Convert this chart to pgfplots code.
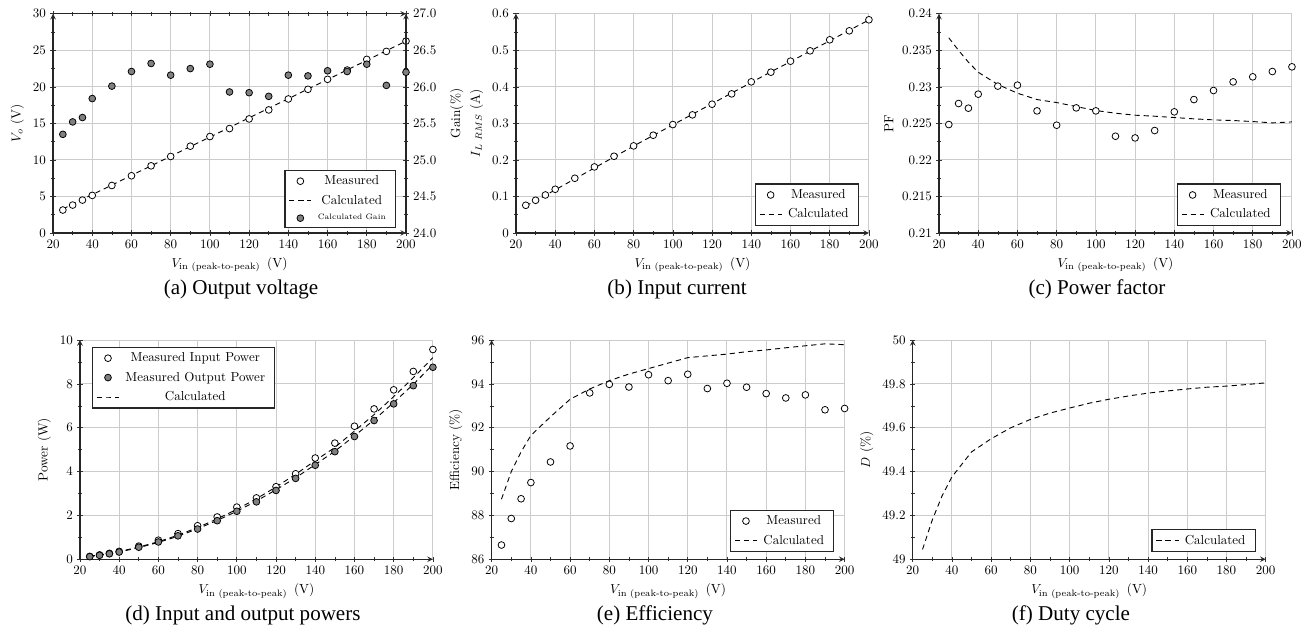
\documentclass[border=0pt]{standalone}
\usepackage{fontspec}
\usepackage{amsmath}
\usepackage{pgfplots}
\pgfplotsset{compat=1.18}
\newfontfamily\capfont{Liberation Serif}

\pgfplotsset{
  myaxis/.style={
    scale only axis, width=271.5pt, height=168.6pt,
    axis lines=left,
    xmin=20, xmax=200, xtick={20,40,...,200},
    minor x tick num=1, minor y tick num=1,
    grid=major, major grid style={black!20, line width=0.8pt},
    axis line style={black!85, line width=0.9pt},
    tick style={black!80, line width=0.5pt},
    major tick length=4pt, minor tick length=3pt,
    tick label style={font=\fontsize{9.7}{11}\selectfont},
    label style={font=\fontsize{10.2}{12}\selectfont},
    xlabel={$V_{\text{in (peak-to-peak)}}$\,~(V)},
    legend style={font=\fontsize{10}{12}\selectfont, draw=black!85, line width=0.9pt,
      inner xsep=3pt, inner ysep=1pt,
      nodes={inner xsep=4.5pt, inner ysep=3.2pt}},
    legend cell align=center,
  },
  meas/.style={only marks, mark=*, mark size=2.6pt, mark options={fill=white, draw=black, line width=0.6pt}},
  measf/.style={only marks, mark=*, mark size=2.6pt, mark options={fill=black!50, draw=black, line width=0.6pt}},
  calc/.style={no marks, black, line width=0.7pt, dash pattern=on 4pt off 3pt},
}

\begin{document}
\begin{tikzpicture}
\path[use as bounding box] (0,0) rectangle (1011.54pt,-485.38pt);

% (a) Output voltage
\begin{axis}[myaxis, at={(40.8pt,-179.2pt)}, anchor=south west,
  ymin=0, ymax=30, ytick={0,5,...,30},
  ylabel={$V_o$ (V)}]
\addplot[calc, forget plot] coordinates {(25,3.28) (30,3.94) (35,4.6) (40,5.25) (50,6.56) (60,7.88) (70,9.19) (80,10.5) (90,11.82) (100,13.13) (110,14.44) (120,15.76) (130,17.07) (140,18.38) (150,19.7) (160,21.0) (170,22.32) (180,23.63) (190,24.95) (200,26.26)};
\addplot[meas] coordinates {(25,3.14) (30,3.82) (35,4.5) (40,5.14) (50,6.5) (60,7.83) (70,9.19) (80,10.47) (90,11.88) (100,13.2) (110,14.29) (120,15.61) (130,16.84) (140,18.34) (150,19.66) (160,21.03) (170,22.3) (180,23.76) (190,24.85) (200,26.26)};
\end{axis}
\begin{axis}[myaxis, at={(40.8pt,-179.2pt)}, anchor=south west,
  axis x line*=top, axis y line*=right, grid=none,
  xticklabels={}, xlabel={},
  ymin=24, ymax=27, ytick={24,24.5,...,27},
  yticklabel style={/pgf/number format/.cd, fixed, fixed zerofill, precision=1},
  ylabel={Gain(\%)}, ylabel style={at={(rel axis cs:1.144,0.545)}, anchor=center},
  legend style={at={(0.972,0.023)}, anchor=south east}]
\addlegendimage{meas}
\addlegendentry{Measured}
\addlegendimage{calc}
\addlegendentry{Calculated}
\addplot[measf] coordinates {(25,25.35) (30,25.52) (35,25.58) (40,25.84) (50,26.01) (60,26.21) (70,26.32) (80,26.16) (90,26.25) (100,26.31) (110,25.93) (120,25.92) (130,25.87) (140,26.16) (150,26.15) (160,26.22) (170,26.21) (180,26.31) (190,26.02) (200,26.2)};
\addlegendentry{\fontsize{6}{7}\selectfont Calculated Gain}
\end{axis}

% (b) Input current
\begin{axis}[myaxis, at={(396.9pt,-179.2pt)}, anchor=south west,
  ymin=0, ymax=0.6, ytick={0,0.1,...,0.6},
  ylabel={$I_{L~RMS}$ (A)},
  legend style={at={(0.972,0.032)}, anchor=south east}]
\addplot[calc, forget plot] coordinates {(25,0.074) (30,0.0885) (35,0.103) (40,0.118) (50,0.148) (60,0.178) (70,0.208) (80,0.238) (90,0.267) (100,0.296) (110,0.325) (120,0.354) (130,0.383) (140,0.412) (150,0.441) (160,0.469) (170,0.498) (180,0.526) (190,0.555) (200,0.583)};
\addplot[meas] coordinates {(25,0.0758) (30,0.0895) (35,0.104) (40,0.1196) (50,0.1498) (60,0.1808) (70,0.210) (80,0.2384) (90,0.2676) (100,0.2968) (110,0.3233) (120,0.3525) (130,0.3808) (140,0.4137) (150,0.4402) (160,0.4703) (170,0.4986) (180,0.5288) (190,0.5534) (200,0.5836)};
\addlegendentry{Measured}
\addlegendimage{calc}
\addlegendentry{Calculated}
\end{axis}

% (c) Power factor
\begin{axis}[myaxis, at={(722.3pt,-179.2pt)}, anchor=south west,
  ymin=0.21, ymax=0.24, ytick={0.21,0.215,0.22,0.225,0.23,0.235,0.24},
  yticklabel style={/pgf/number format/.cd, fixed, precision=3},
  ylabel={PF},
  legend style={at={(0.969,0.032)}, anchor=south east}]
\addplot[calc, forget plot] coordinates {(25,0.23671) (30,0.23498) (35,0.23338) (40,0.2320) (50,0.23032) (60,0.22913) (70,0.22826) (80,0.22785) (90,0.2273) (100,0.22676) (110,0.22639) (120,0.22612) (130,0.22598) (140,0.2258) (150,0.22562) (160,0.22548) (170,0.22539) (180,0.22525) (190,0.22507) (200,0.2252)};
\addplot[meas] coordinates {(25,0.22484) (30,0.22772) (35,0.22708) (40,0.229) (50,0.2301) (60,0.23023) (70,0.22671) (80,0.22475) (90,0.22712) (100,0.22671) (110,0.22324) (120,0.22301) (130,0.22402) (140,0.22658) (150,0.22826) (160,0.2295) (170,0.23068) (180,0.23137) (190,0.2321) (200,0.23274)};
\addlegendentry{Measured}
\addlegendimage{calc}
\addlegendentry{Calculated}
\end{axis}

% (d) Input and output powers
\begin{axis}[myaxis, at={(61.5pt,-430.2pt)}, anchor=south west,
  ymin=0, ymax=10, ytick={0,2,...,10},
  ylabel={Power (W)},
  legend style={at={(0.034,0.97)}, anchor=north west}]
\addplot[calc, forget plot] coordinates {(25,0.14) (30,0.2) (35,0.27) (40,0.35) (50,0.56) (60,0.8) (70,1.1) (80,1.45) (90,1.84) (100,2.28) (110,2.76) (120,3.3) (130,3.88) (140,4.5) (150,5.1) (160,5.85) (170,6.6) (180,7.42) (190,8.28) (200,9.2)};
\addplot[calc, forget plot] coordinates {(25,0.13) (30,0.19) (35,0.26) (40,0.33) (50,0.53) (60,0.77) (70,1.05) (80,1.39) (90,1.77) (100,2.19) (110,2.66) (120,3.17) (130,3.72) (140,4.32) (150,4.93) (160,5.63) (170,6.36) (180,7.15) (190,7.98) (200,8.88)};
\addplot[meas] coordinates {(25,0.13) (30,0.2) (35,0.27) (40,0.36) (50,0.6) (60,0.87) (70,1.17) (80,1.53) (90,1.93) (100,2.38) (110,2.8) (120,3.31) (130,3.9) (140,4.62) (150,5.3) (160,6.07) (170,6.86) (180,7.73) (190,8.57) (200,9.57)};
\addlegendentry{Measured Input Power}
\addplot[measf] coordinates {(25,0.12) (30,0.18) (35,0.25) (40,0.33) (50,0.55) (60,0.79) (70,1.07) (80,1.38) (90,1.76) (100,2.19) (110,2.62) (120,3.14) (130,3.69) (140,4.29) (150,4.91) (160,5.6) (170,6.33) (180,7.09) (190,7.92) (200,8.76)};
\addlegendentry{Measured Output Power}
\addlegendimage{calc}
\addlegendentry{Calculated}
\end{axis}

% (e) Efficiency
\begin{axis}[myaxis, at={(378.2pt,-430.2pt)}, anchor=south west,
  ymin=86, ymax=96, ytick={86,88,...,96},
  ylabel={Efficiency (\%)},
  legend style={at={(0.971,0.033)}, anchor=south east}]
\addplot[calc, forget plot] coordinates {(25,88.74) (30,90.0) (35,90.9) (40,91.65) (50,92.5) (60,93.3) (70,93.77) (80,94.15) (90,94.45) (100,94.7) (110,94.95) (120,95.2) (130,95.28) (140,95.36) (150,95.47) (160,95.55) (170,95.65) (180,95.74) (190,95.83) (200,95.79)};
\addplot[meas] coordinates {(25,86.65) (30,87.86) (35,88.76) (40,89.5) (50,90.44) (60,91.17) (70,93.59) (80,93.98) (90,93.86) (100,94.42) (110,94.15) (120,94.44) (130,93.79) (140,94.03) (150,93.85) (160,93.56) (170,93.36) (180,93.5) (190,92.82) (200,92.88)};
\addlegendentry{Measured}
\addlegendimage{calc}
\addlegendentry{Calculated}
\end{axis}

% (f) Duty cycle
\begin{axis}[myaxis, at={(702.1pt,-430.2pt)}, anchor=south west,
  ymin=49, ymax=50, ytick={49,49.2,...,50},
  ylabel={$D$ (\%)},
  legend style={at={(0.972,0.033)}, anchor=south east}]
\addplot[calc] coordinates {(25,49.045) (30,49.18) (35,49.29) (40,49.376) (50,49.49) (60,49.55) (70,49.6) (80,49.638) (90,49.667) (100,49.69) (110,49.712) (120,49.73) (130,49.745) (140,49.758) (150,49.768) (160,49.777) (170,49.785) (180,49.79) (190,49.797) (200,49.805)};
\addlegendentry{Calculated}
\end{axis}

\begin{scope}[every node/.style={font=\capfont\fontsize{16.2}{19}\selectfont}]
\node at (185.4pt,-222.7pt) {(a) Output voltage};
\node at (520.8pt,-222.7pt) {(b) Input current};
\node at (843.8pt,-222.7pt) {(c) Power factor};
\node at (186.9pt,-473.1pt) {(d) Input and output powers};
\node at (503.8pt,-473.1pt) {(e) Efficiency};
\node at (823.8pt,-473.1pt) {(f) Duty cycle};
\end{scope}
\end{tikzpicture}
\end{document}
